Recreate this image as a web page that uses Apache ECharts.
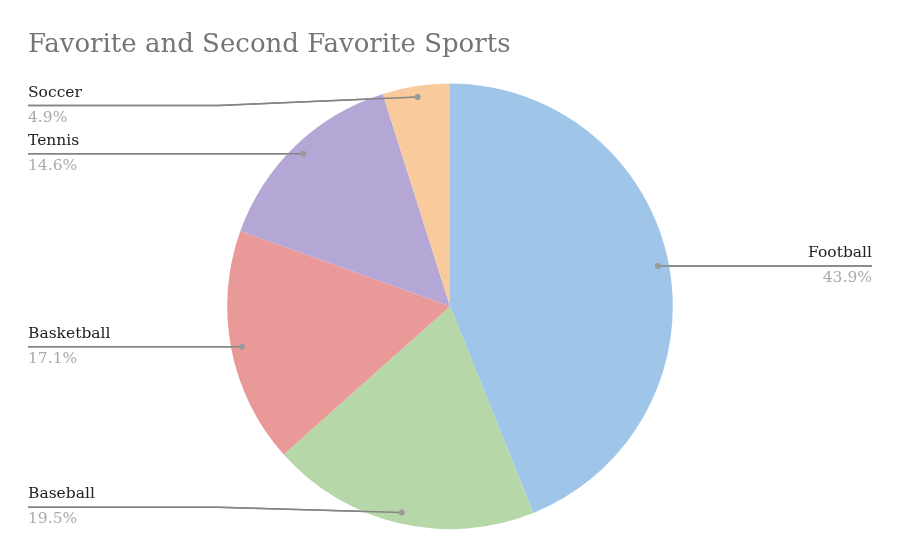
<!DOCTYPE html>
<html>
<head>
<meta charset="utf-8">
<style>
  html, body { margin: 0; padding: 0; background: #fff; }
  #chart { width: 900px; height: 557px; }
</style>
<script src="https://cdn.jsdelivr.net/npm/echarts@6/dist/echarts.min.js"></script>
</head>
<body>
<div id="chart"></div>
<script>
const titleText = 'Favorite and Second Favorite Sports';
const categories = ['Football', 'Baseball', 'Basketball', 'Tennis', 'Soccer'];
const values = [18, 8, 7, 6, 2];
const colors = ['#9fc5e8', '#b6d7a8', '#ea9999', '#b4a7d6', '#f9cb9c'];

const FONT = '"DejaVu Serif", serif';
const chart = echarts.init(document.getElementById('chart'));
const W = 900, H = 557;
const CX = W * 0.5, CY = H * 0.55;
const R = Math.min(W, H) / 2 * 0.8;
const DOT_R = R - 11;

const guides = [];
let guidesDrawn = false;

function labelLayout(params) {
  const pts = params.labelLinePoints;
  if (!pts) return {};
  const rect = params.labelRect;
  const isLeft = rect.x + rect.width / 2 < CX;
  const ox = pts[0][0], oy = pts[0][1];
  const dx = ox - CX, dy = oy - CY;
  const d = Math.sqrt(dx * dx + dy * dy) || 1;
  const sx = CX + dx / d * DOT_R, sy = CY + dy / d * DOT_R;
  const off = 22;
  const ly = Math.max(CY - R + off, Math.min(CY + R - off, sy));
  const bendX = isLeft ? CX - R - 9 : CX + R + 9;
  const endX = isLeft ? rect.x : rect.x + rect.width;
  const linePts = [[sx, sy], [bendX, ly], [endX, ly]];
  guides[params.dataIndex] = linePts;
  return {
    y: ly,
    verticalAlign: 'middle',
    labelLinePoints: linePts
  };
}

chart.setOption({
  animation: false,
  color: colors,
  title: {
    text: titleText,
    left: 23,
    top: 27,
    textStyle: { fontFamily: FONT, fontSize: 26, fontWeight: 'normal', color: '#757575' }
  },
  series: [{
    type: 'pie',
    center: ['50%', '55%'],
    radius: '80%',
    startAngle: 90,
    clockwise: true,
    percentPrecision: 1,
    avoidLabelOverlap: false,
    data: categories.map((c, i) => ({ name: c, value: values[i] })),
    label: {
      show: true,
      alignTo: 'edge',
      edgeDistance: 28,
      formatter: '{name|{b}}\n{pct|{d}%}',
      rich: {
        name: { fontFamily: FONT, fontSize: 15.5, color: '#222', lineHeight: 24, padding: [0, 0, 2, 0] },
        pct: { fontFamily: FONT, fontSize: 15.5, color: '#aaa', lineHeight: 24 }
      }
    },
    labelLine: {
      show: true,
      showAbove: true,
      length: 10,
      length2: 0,
      lineStyle: { color: '#858585', width: 1.5 }
    },
    labelLayout: labelLayout,
    emphasis: { disabled: true }
  }]
});

function drawGuides() {
  if (guidesDrawn) return;
  guidesDrawn = true;
  const items = [];
  guides.forEach(function (pts) {
    if (!pts) return;
    items.push({
      type: 'polyline',
      shape: { points: pts },
      style: { stroke: '#858585', lineWidth: 1.5, fill: null },
      z: 90
    });
    items.push({
      type: 'circle',
      shape: { cx: pts[0][0], cy: pts[0][1], r: 3 },
      style: { fill: '#999' },
      z: 100
    });
  });
  chart.setOption({ graphic: items });
}
drawGuides();
</script>
</body>
</html>
